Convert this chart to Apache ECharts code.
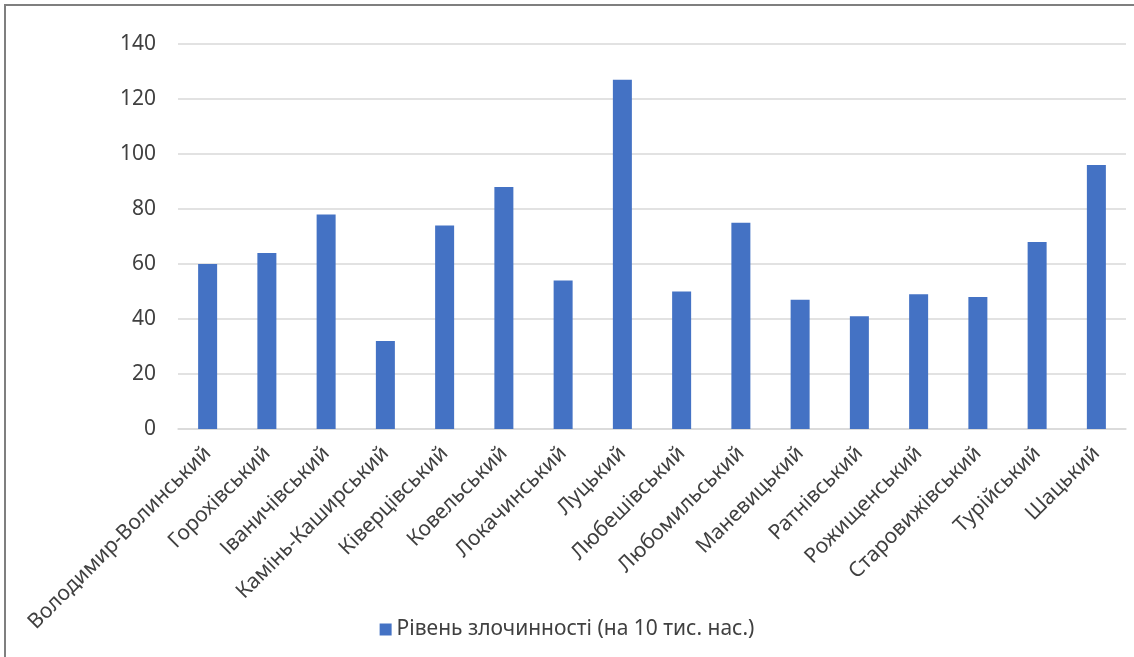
<!DOCTYPE html>
<html>
<head>
<meta charset="utf-8">
<script src="https://cdn.jsdelivr.net/npm/echarts@6/dist/echarts.min.js"></script>
<style>
html,body{margin:0;padding:0;background:#fff;}
#frame{position:absolute;left:4px;top:4px;width:1130px;height:653px;border-left:2px solid #7f7f7f;border-top:2px solid #7f7f7f;box-sizing:border-box;pointer-events:none;z-index:2;}
#chart{position:absolute;left:0;top:0;width:1134px;height:657px;}
</style>
</head>
<body>
<div id="chart"></div>
<div id="frame"></div>
<script>
const categories = ["Володимир-Волинський","Горохівський","Іваничівський","Камінь-Каширський","Ківерцівський","Ковельський","Локачинський","Луцький","Любешівський","Любомильський","Маневицький","Ратнівський","Рожищенський","Старовижівський","Турійський","Шацький"];
const crimeRate = [60,64,78,32,74,88,54,127,50,75,47,41,49,48,68,96];
const seriesName = "Рівень злочинності (на 10 тис. нас.)";

const chart = echarts.init(document.getElementById('chart'));
const font = "'Noto Sans', 'Open Sans', sans-serif";
chart.setOption({
  animation:false,
  textStyle:{fontFamily:font},
  grid:{left:178,right:8,top:44,bottom:228,containLabel:false},
  legend:{
    data:[seriesName],
    left:'center',
    top:614,
    icon:'rect',
    itemWidth:12,itemHeight:12,itemGap:6,
    textStyle:{fontSize:21,color:'#404040',fontFamily:font}
  },
  xAxis:{
    type:'category',
    data:categories,
    axisLine:{lineStyle:{color:'#d9d9d9',width:1.5}},
    axisTick:{show:false},
    axisLabel:{rotate:45,interval:0,fontSize:21,color:'#404040',margin:21,fontFamily:font}
  },
  yAxis:{
    type:'value',
    min:0,max:140,interval:20,
    axisLine:{show:false},
    axisTick:{show:false},
    splitLine:{lineStyle:{color:'#d9d9d9',width:1.5}},
    axisLabel:{fontSize:21,color:'#404040',margin:22,fontFamily:font}
  },
  series:[{
    name:seriesName,
    type:'bar',
    data:crimeRate,
    barWidth:19,
    itemStyle:{color:'#4472c4'}
  }]
});
</script>
</body>
</html>
